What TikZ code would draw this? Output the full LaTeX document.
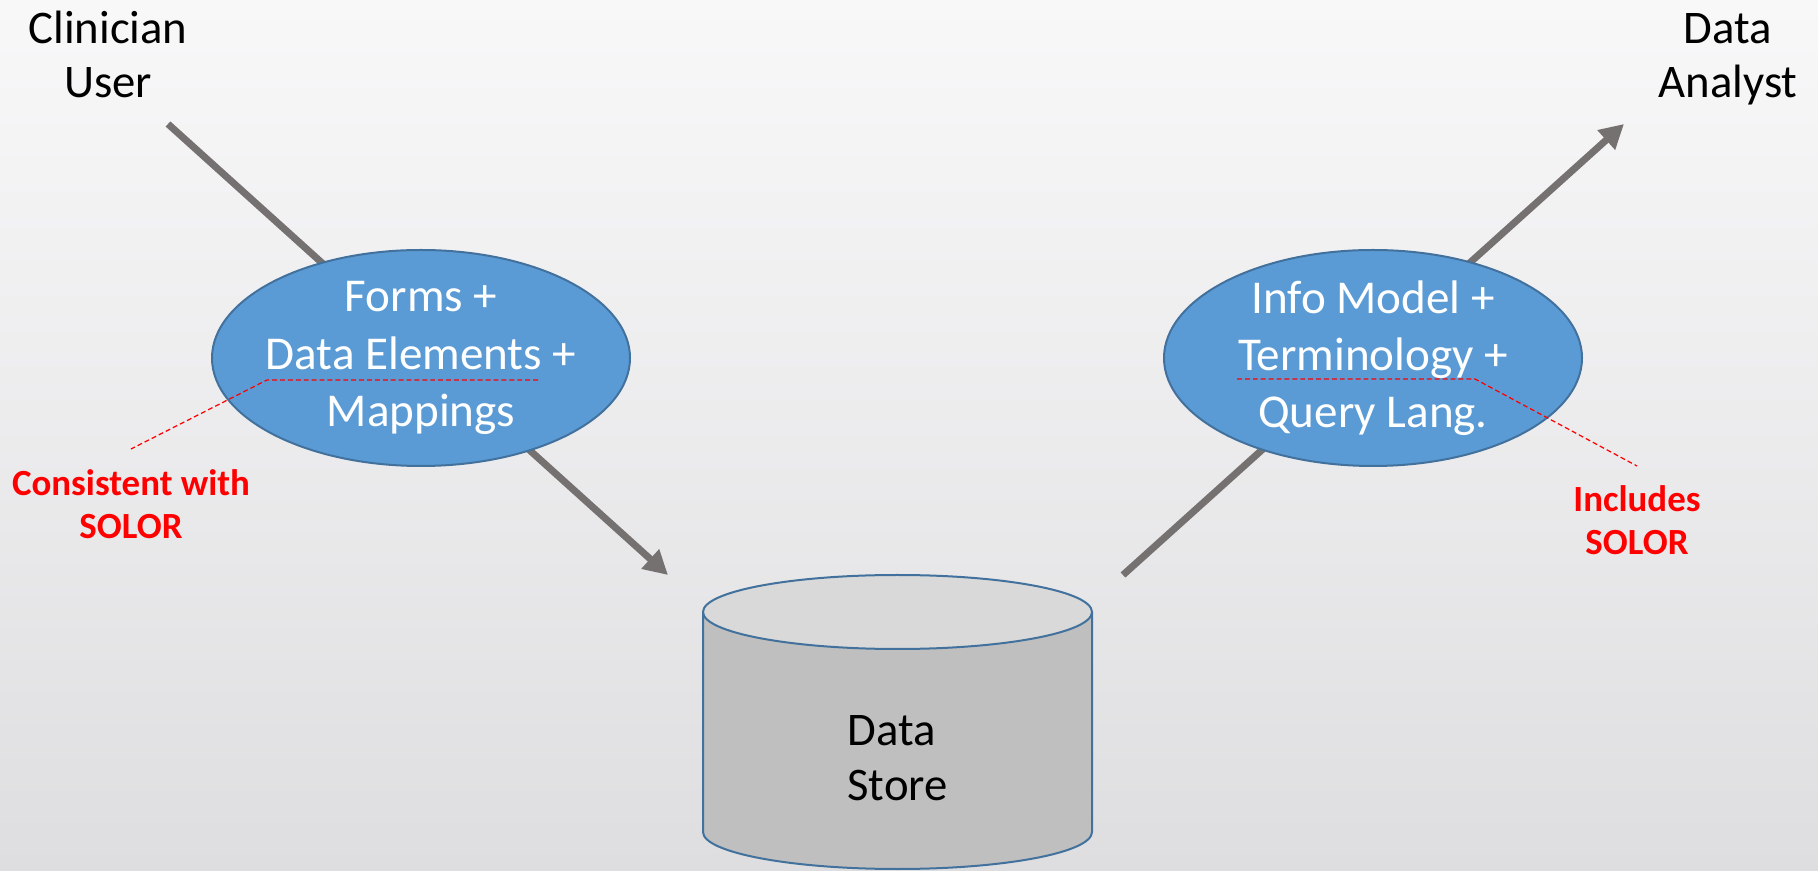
\documentclass[tikz,border=0pt]{standalone}
\usepackage{fontspec}
\setmainfont{Carlito}
\usepackage{xcolor}
\usetikzlibrary{arrows.meta, shapes.geometric}
\definecolor{bgtop}{RGB}{249,248,249}
\definecolor{bgbottom}{RGB}{222,222,224}
\definecolor{arrowgray}{RGB}{118,113,113}
\definecolor{bubbleblue}{RGB}{91,155,213}
\definecolor{edgeblue}{RGB}{65,113,156}
\definecolor{storegray}{RGB}{191,191,191}
\definecolor{storetop}{RGB}{217,217,217}
\tikzset{
    flow_arrow/.style={-{Triangle[length=0.48cm, width=0.5cm]}, line width=0.14cm, arrowgray},
    bubble/.style={ellipse, draw=edgeblue, line width=0.04cm, fill=bubbleblue, minimum width=8.36cm, minimum height=4.32cm, inner sep=-1cm, text=white, align=center, font=\fontsize{26.8}{32.5}\selectfont},
    actor/.style={align=center, font=\fontsize{26.6}{31}\selectfont},
    note_line/.style={red, line width=0.7pt, dash pattern=on 2.8pt off 1.7pt},
    note_text/.style={red, align=center, font=\bfseries\fontsize{21}{25}\selectfont}
}

\begin{document}
\begin{tikzpicture}
    % Background
    \shade[top color=bgtop, bottom color=bgbottom] (0,0) rectangle (36.36,17.4);
    \useasboundingbox (0,0) rectangle (36.36,17.4);
    % Actors
    \node[actor, anchor=base] (user) at (2.16,15.44) {Clinician\\User};
    \node[actor, anchor=base] (analyst) at (34.56,15.44) {Data\\Analyst};
    % Flow arrows
    \coordinate (user_out) at (3.36,14.92);
    \coordinate (store_in) at (13.36,5.90);
    \coordinate (store_out) at (22.46,5.90);
    \coordinate (analyst_in) at (32.48,14.92);
    \draw[flow_arrow] (user_out) -- (store_in);
    \draw[flow_arrow] (store_out) -- (analyst_in);
    % Bubbles
    \node[bubble] (forms) at (8.42,10.24) {Forms +\\Data Elements +\\Mappings};
    \node[bubble] (model) at (27.46,10.24) {Info Model +\\Terminology +\\Query Lang.};
    % Data store
    \fill[storegray] (14.06,5.16) -- (14.06,0.76) arc[start angle=180, end angle=360, x radius=3.89, y radius=0.74] -- (21.84,5.16) -- cycle;
    \draw[edgeblue, line width=0.04cm] (14.06,5.16) -- (14.06,0.76) arc[start angle=180, end angle=360, x radius=3.89, y radius=0.74] -- (21.84,5.16);
    \draw[edgeblue, line width=0.04cm, fill=storetop] (17.95,5.16) ellipse [x radius=3.89, y radius=0.74];
    \node[actor, align=left, anchor=base] (store) at (17.95,1.40) {Data\\Store};
    % SOLOR notes
    \coordinate (elem_r) at (10.76,9.80);
    \coordinate (elem_l) at (5.34,9.80);
    \coordinate (forms_note) at (2.62,8.42);
    \draw[note_line] (elem_r) -- (elem_l) -- (forms_note);
    \node[note_text, anchor=base] (consistent) at (2.62,6.62) {Consistent with\\SOLOR};
    \coordinate (term_l) at (24.74,9.82);
    \coordinate (term_r) at (29.50,9.82);
    \coordinate (model_note) at (32.74,8.08);
    \draw[note_line] (term_l) -- (term_r) -- (model_note);
    \node[note_text, anchor=base] (includes) at (32.74,6.3) {Includes\\SOLOR};
\end{tikzpicture}
\end{document}
